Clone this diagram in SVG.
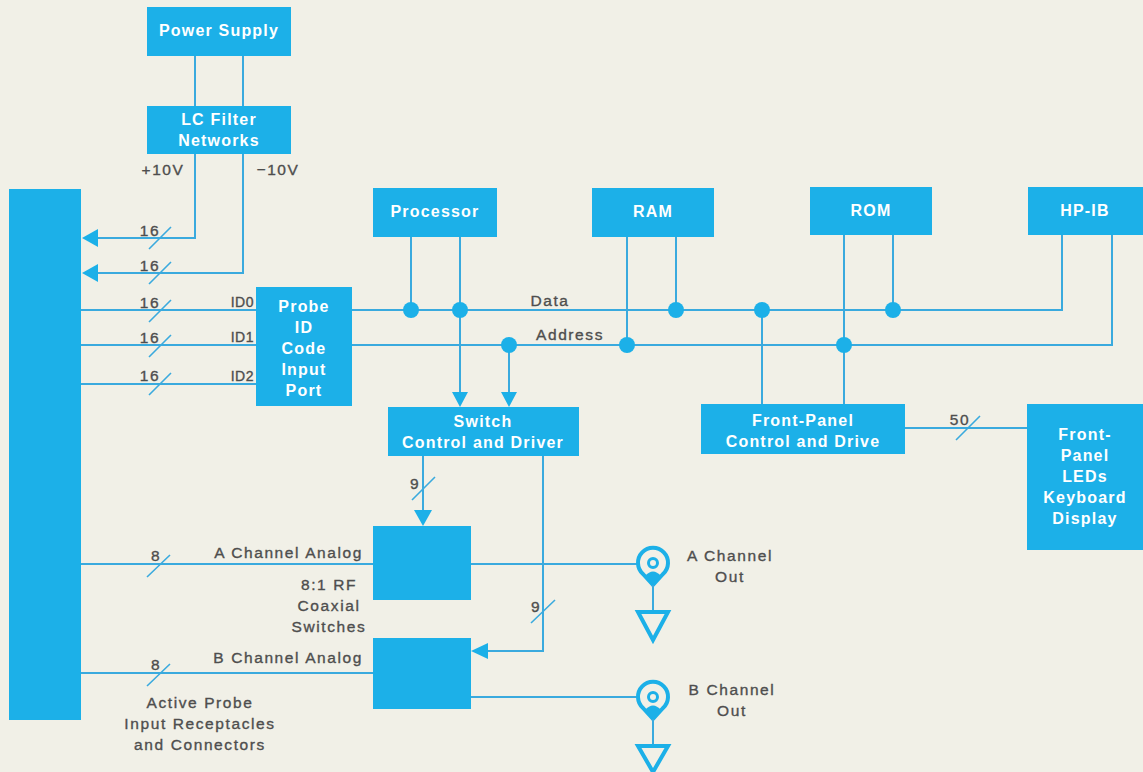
<svg xmlns="http://www.w3.org/2000/svg" width="1143" height="772" viewBox="0 0 1143 772">
<style>
.box{fill:#1cb0e8}
.bt{font-family:"Liberation Sans",Arial,sans-serif;font-weight:bold;font-size:16px;fill:#ffffff;text-anchor:middle;letter-spacing:1.2px}
.lb{font-family:"Liberation Sans",Arial,sans-serif;font-size:15.5px;fill:#4e4e4e;stroke:#4e4e4e;stroke-width:0.35px;letter-spacing:1.6px}
.c{text-anchor:middle}
.e{text-anchor:end}
.ln{fill:none;stroke:#3aaade;stroke-width:2}
.sl{fill:none;stroke:#3aaade;stroke-width:1.6}
.ah{fill:#1cb0e8}
.dot{fill:#1cb0e8}
.cx{fill:none;stroke:#1cb0e8;stroke-width:4}
</style>
<rect width="1143" height="772" fill="#f1f0e7"/>

<g id="connectors">
  <path class="ln" d="M195 56V106M243 56V106"/>
  <path class="ln" d="M195 154V238H97M243 154V273H97"/>
  <polygon class="ah" points="82,238 98,229 98,247"/>
  <polygon class="ah" points="82,273 98,264 98,282"/>
  <path class="ln" d="M81 310H256M81 345H256M81 384H256"/>
  <path class="ln" d="M352 310H1062V235"/>
  <path class="ln" d="M352 345H1112V235"/>
  <path class="ln" d="M411 237V310M460 237V392M509 345V392"/>
  <polygon class="ah" points="452,392 468,392 460,407"/>
  <polygon class="ah" points="501,392 517,392 509,407"/>
  <path class="ln" d="M627 237V345M676 237V310"/>
  <path class="ln" d="M762 310V404M844 235V404M893 235V310"/>
  <path class="ln" d="M905 428H1027"/>
  <path class="ln" d="M423 456V511"/>
  <polygon class="ah" points="414,510 432,510 423,526"/>
  <path class="ln" d="M543 456V651H487"/>
  <polygon class="ah" points="471,651 488,643 488,659"/>
  <path class="ln" d="M81 564H373M81 673H373"/>
  <path class="ln" d="M471 564H639M471 697H639"/>
  <path class="sl" d="M149 249L171 227M149 284L171 262M149 322L171 300M149 357L171 335M149 395L171 373"/>
  <path class="sl" d="M147 577L170 555M147 686L170 664"/>
  <path class="sl" d="M412 500L435 477M531 623L555 600M956 440L980 416"/>
  <circle class="dot" cx="411" cy="310" r="8"/>
  <circle class="dot" cx="460" cy="310" r="8"/>
  <circle class="dot" cx="509" cy="345" r="8"/>
  <circle class="dot" cx="627" cy="345" r="8"/>
  <circle class="dot" cx="676" cy="310" r="8"/>
  <circle class="dot" cx="762" cy="310" r="8"/>
  <circle class="dot" cx="844" cy="345" r="8"/>
  <circle class="dot" cx="893" cy="310" r="8"/>
</g>

<g id="labels">
  <text class="lb c" x="163" y="175">+10V</text>
  <text class="lb c" x="278" y="175">−10V</text>
  <text class="lb c" x="150" y="236">16</text>
  <text class="lb c" x="150" y="271">16</text>
  <text class="lb c" x="150" y="308">16</text>
  <text class="lb c" x="150" y="343">16</text>
  <text class="lb c" x="150" y="381">16</text>
  <text class="lb e" x="254" y="307" style="font-size:14px;letter-spacing:0.5px">ID0</text>
  <text class="lb e" x="254" y="342" style="font-size:14px;letter-spacing:0.5px">ID1</text>
  <text class="lb e" x="254" y="381" style="font-size:14px;letter-spacing:0.5px">ID2</text>
  <text class="lb c" x="550" y="306">Data</text>
  <text class="lb c" x="570" y="340">Address</text>
  <text class="lb c" x="960" y="425">50</text>
  <text class="lb c" x="415" y="489">9</text>
  <text class="lb c" x="536" y="612">9</text>
  <text class="lb c" x="156" y="561">8</text>
  <text class="lb c" x="156" y="670">8</text>
  <text class="lb e" x="363" y="558">A Channel Analog</text>
  <text class="lb e" x="363" y="663">B Channel Analog</text>
  <text class="lb c" x="329" y="590">8:1 RF</text>
  <text class="lb c" x="329" y="611">Coaxial</text>
  <text class="lb c" x="329" y="632">Switches</text>
  <text class="lb c" x="200" y="708">Active Probe</text>
  <text class="lb c" x="200" y="729">Input Receptacles</text>
  <text class="lb c" x="200" y="750">and Connectors</text>
  <text class="lb c" x="730" y="561">A Channel</text>
  <text class="lb c" x="730" y="582">Out</text>
  <text class="lb c" x="732" y="695">B Channel</text>
  <text class="lb c" x="732" y="716">Out</text>
</g>

<g id="bar"><rect class="box" x="9" y="189" width="72" height="531"/></g>
<g id="power-supply"><rect class="box" x="147" y="7" width="144" height="49"/><text class="bt" x="219" y="36">Power Supply</text></g>
<g id="lc-filter"><rect class="box" x="147" y="106" width="144" height="48"/><text class="bt" x="219" y="125">LC Filter</text><text class="bt" x="219" y="146">Networks</text></g>
<g id="processor"><rect class="box" x="373" y="188" width="124" height="49"/><text class="bt" x="435" y="217">Processor</text></g>
<g id="ram"><rect class="box" x="592" y="188" width="122" height="49"/><text class="bt" x="653" y="217">RAM</text></g>
<g id="rom"><rect class="box" x="810" y="187" width="122" height="48"/><text class="bt" x="871" y="216">ROM</text></g>
<g id="hpib"><rect class="box" x="1028" y="187" width="116" height="48"/><text class="bt" x="1085" y="216">HP-IB</text></g>
<g id="probe-id"><rect class="box" x="256" y="287" width="96" height="119"/>
  <text class="bt" x="304" y="312">Probe</text><text class="bt" x="304" y="333">ID</text><text class="bt" x="304" y="354">Code</text><text class="bt" x="304" y="375">Input</text><text class="bt" x="304" y="396">Port</text></g>
<g id="switch-ctrl"><rect class="box" x="388" y="407" width="191" height="49"/><text class="bt" x="483" y="427">Switch</text><text class="bt" x="483" y="448">Control and Driver</text></g>
<g id="fp-ctrl"><rect class="box" x="701" y="404" width="204" height="50"/><text class="bt" x="803" y="426">Front-Panel</text><text class="bt" x="803" y="447">Control and Drive</text></g>
<g id="fp-leds"><rect class="box" x="1027" y="404" width="117" height="146"/>
  <text class="bt" x="1085" y="440">Front-</text><text class="bt" x="1085" y="461">Panel</text><text class="bt" x="1085" y="482">LEDs</text><text class="bt" x="1085" y="503">Keyboard</text><text class="bt" x="1085" y="524">Display</text></g>
<g id="switch-a"><rect class="box" x="373" y="526" width="98" height="74"/></g>
<g id="switch-b"><rect class="box" x="373" y="638" width="98" height="71"/></g>
<g id="coax-a">
  <path class="cx" d="M643 574A15 15 0 1 1 663 574L653 585Z" stroke-linejoin="round"/>
  <circle cx="653" cy="563" r="4.5" fill="none" stroke="#1cb0e8" stroke-width="3"/>
  <path d="M645 576Q653 567 661 576L653 585Z" fill="#1cb0e8"/>
  <path class="ln" d="M653 585V611"/>
  <polygon class="cx" points="638,612 668,612 653,640"/>
</g>
<g id="coax-b">
  <path class="cx" d="M643 708A15 15 0 1 1 663 708L653 719Z" stroke-linejoin="round"/>
  <circle cx="653" cy="697" r="4.5" fill="none" stroke="#1cb0e8" stroke-width="3"/>
  <path d="M645 710Q653 701 661 710L653 719Z" fill="#1cb0e8"/>
  <path class="ln" d="M653 719V745"/>
  <polygon class="cx" points="638,746 668,746 653,772"/>
</g>
</svg>
